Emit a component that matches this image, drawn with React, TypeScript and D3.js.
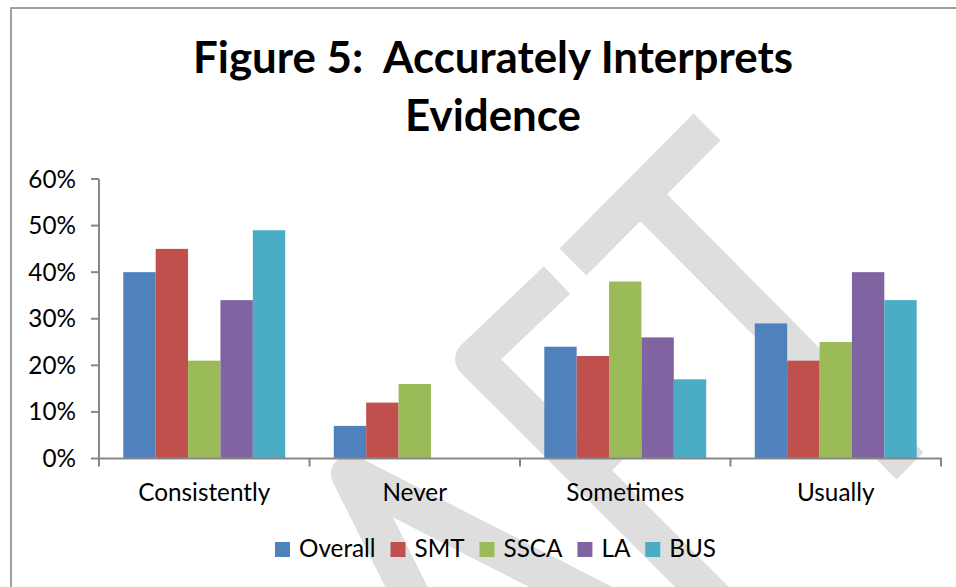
import React, { useEffect, useRef } from "react";
import * as d3 from "d3";

const categories = ["Consistently", "Never", "Sometimes", "Usually"];
const seriesNames = ["Overall", "SMT", "SSCA", "LA", "BUS"];
const overallValues = [40, 7, 24, 29];
const smtValues = [45, 12, 22, 21];
const sscaValues = [21, 16, 38, 25];
const laValues = [34, 0, 26, 40];
const busValues = [49, 0, 17, 34];
const yTickValues = [0, 10, 20, 30, 40, 50, 60];
const seriesColors = ["#4F81BD", "#C0504D", "#9BBB59", "#8064A2", "#4BACC6"];
const titleLines = ["Figure 5:  Accurately Interprets", "Evidence"];

// Decorative background watermark (part of the page, not data)
const watermarkStrokes: [number, number][][] = [
  [[573, 262], [707, 127]],
  [[640, 194], [910, 466]],
  [[557, 280], [474, 359], [730, 615]],
  [[578, 478], [655, 400]],
  [[418, 610], [350, 474], [645, 625]],
];

const W = 956;
const H = 587;
const FONT = "Lato, 'Open Sans', sans-serif";

export default function App() {
  const ref = useRef<SVGSVGElement>(null);

  useEffect(() => {
    document.body.style.margin = "0";
    const seriesValues = [overallValues, smtValues, sscaValues, laValues, busValues];
    const svg = d3.select(ref.current as SVGSVGElement);
    svg.selectAll("*").remove();

    svg.append("rect").attr("width", W).attr("height", H).attr("fill", "#fff");

    // watermark
    const wm = svg.append("g");
    const line = d3.line();
    watermarkStrokes.forEach((pts) => {
      wm.append("path")
        .attr("d", line(pts) as string)
        .attr("fill", "none")
        .attr("stroke", "#dedede")
        .attr("stroke-width", 38)
        .attr("stroke-linejoin", "round")
        .attr("stroke-linecap", "butt");
    });

    // chart border
    svg.append("rect")
      .attr("x", 11).attr("y", 8)
      .attr("width", W + 20).attr("height", H + 20)
      .attr("fill", "none").attr("stroke", "#888").attr("stroke-width", 1.6);

    const measure = (txt: string, size: number, weight: string) => {
      const t = svg.append("text").attr("font-family", FONT).attr("font-size", size)
        .attr("font-weight", weight).style("white-space", "pre").text(txt);
      const w = (t.node() as SVGTextElement).getComputedTextLength();
      t.remove();
      return w;
    };
    const titleSize = 40 * 600 / measure(titleLines[0], 40, "700");
    const labelSize = 24 * 132 / measure("Consistently", 24, "400");

    // title
    const titleBaselines = [73, 131];
    titleLines.forEach((t, i) => {
      svg.append("text")
        .attr("x", 493).attr("y", titleBaselines[i])
        .attr("text-anchor", "middle")
        .attr("font-family", FONT).attr("font-weight", 700)
        .attr("font-size", titleSize)
        .style("white-space", "pre")
        .attr("fill", "#000")
        .text(t);
    });

    const x0 = d3.scaleBand<string>().domain(categories).range([99, 941]).paddingInner(0).paddingOuter(0);
    const x1 = d3.scaleBand<string>().domain(seriesNames).range([0, x0.bandwidth()]).paddingInner(0).paddingOuter(0.75);
    const y = d3.scaleLinear().domain([0, 60]).range([458.5, 179]);

    // bars
    const gBars = svg.append("g");
    seriesNames.forEach((s, si) => {
      gBars.selectAll(null)
        .data(categories.map((c, ci) => ({ c, v: seriesValues[si][ci] })))
        .enter()
        .append("rect")
        .attr("x", (d) => (x0(d.c) as number) + (x1(s) as number))
        .attr("width", x1.bandwidth())
        .attr("y", (d) => y(d.v))
        .attr("height", (d) => y(0) - y(d.v))
        .attr("fill", seriesColors[si]);
    });

    const axisColor = "#878787";
    // y axis
    const gy = svg.append("g");
    gy.append("line").attr("x1", 99).attr("x2", 99).attr("y1", y(60)).attr("y2", y(0))
      .attr("stroke", axisColor).attr("stroke-width", 2);
    yTickValues.forEach((v) => {
      gy.append("line").attr("x1", 91).attr("x2", 99).attr("y1", y(v)).attr("y2", y(v))
        .attr("stroke", axisColor).attr("stroke-width", 2);
      gy.append("text").attr("x", 76).attr("y", y(v)).attr("dy", "0.35em")
        .attr("text-anchor", "end").attr("font-family", FONT).attr("font-size", labelSize)
        .attr("fill", "#000").text(`${v}%`);
    });

    // x axis
    const gx = svg.append("g");
    gx.append("line").attr("x1", 99).attr("x2", 942).attr("y1", y(0)).attr("y2", y(0))
      .attr("stroke", axisColor).attr("stroke-width", 2);
    const boundaries = categories.map((c) => x0(c) as number).concat([x0.range()[1]]);
    boundaries.forEach((bx) => {
      gx.append("line").attr("x1", bx).attr("x2", bx).attr("y1", y(0)).attr("y2", y(0) + 8)
        .attr("stroke", axisColor).attr("stroke-width", 2);
    });
    categories.forEach((c) => {
      gx.append("text").attr("x", (x0(c) as number) + x0.bandwidth() / 2).attr("y", 501)
        .attr("text-anchor", "middle").attr("font-family", FONT).attr("font-size", labelSize)
        .attr("fill", "#000").text(c);
    });

    // legend
    const sq = 15;
    const textGap = 24;
    const legendLeft = 275;
    const legendRight = 716;
    const widths = seriesNames.map((s) => measure(s, labelSize, "400"));
    const content = widths.reduce((a, w) => a + textGap + w, 0);
    const itemGap = Math.max(10, (legendRight - legendLeft - content) / (seriesNames.length - 1));
    const total = content + itemGap * (seriesNames.length - 1);
    let lx = (legendLeft + legendRight) / 2 - total / 2;
    const legendBase = 557;
    const gl = svg.append("g");
    seriesNames.forEach((s, i) => {
      gl.append("rect").attr("x", lx).attr("y", legendBase - sq).attr("width", sq).attr("height", sq)
        .attr("fill", seriesColors[i]);
      gl.append("text").attr("x", lx + textGap).attr("y", legendBase)
        .attr("font-family", FONT).attr("font-size", labelSize).attr("fill", "#000").text(s);
      lx += textGap + widths[i] + itemGap;
    });
  }, []);

  return <svg ref={ref} width={W} height={H} style={{ display: "block" }} />;
}
